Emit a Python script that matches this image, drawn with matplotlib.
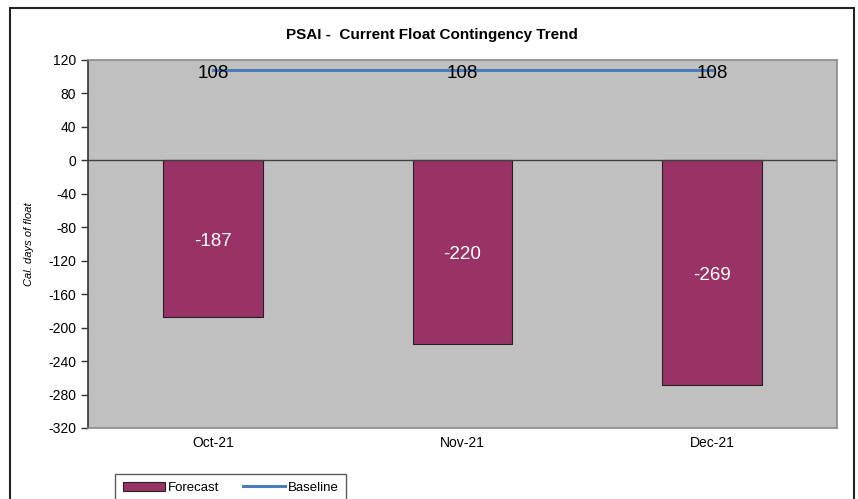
import matplotlib.pyplot as plt
from matplotlib.patches import Rectangle
import numpy as np

plt.rcParams['font.family'] = ['Liberation Sans', 'DejaVu Sans']
plt.rcParams['axes.unicode_minus'] = False

months = ['Oct-21', 'Nov-21', 'Dec-21']
forecast = [-187, -220, -269]
baseline = [108, 108, 108]
yticks = list(range(-320, 121, 40))

fig = plt.figure(figsize=(8.58, 4.99), dpi=100)
ax = fig.add_axes([0.1026, 0.1423, 0.8727, 0.7375])
ax.set_facecolor('#C0C0C0')

x = np.arange(len(months))
bars = ax.bar(x, forecast, width=0.4, color='#993366', edgecolor='#222222',
              linewidth=0.8, label='Forecast', zorder=2)
line, = ax.plot(x, baseline, color='#4A7EBB', linewidth=2.2, label='Baseline', zorder=3)

for xi, v in zip(x, forecast):
    ax.text(xi, v / 2 - 3, str(v), color='white', ha='center', va='center', fontsize=13.5, zorder=4)
for xi, v in zip(x, baseline):
    ax.text(xi, v - 4, str(v), color='black', ha='center', va='center', fontsize=13.5, zorder=4)

ax.axhline(0, color='#404040', linewidth=1, zorder=2.5)
ax.set_xlim(-0.5, 2.5)
ax.set_ylim(-320, 120)
ax.set_yticks(yticks)
ax.set_xticks(x)
ax.set_xticklabels(months, fontsize=10)
ax.tick_params(axis='y', labelsize=10, length=5, width=1, direction='out', color='#333333')
ax.tick_params(axis='x', length=0, pad=6)

for side in ['top', 'right', 'bottom']:
    ax.spines[side].set_color('#8A8A8A')
    ax.spines[side].set_linewidth(1.2)
ax.spines['left'].set_color('#333333')
ax.spines['left'].set_linewidth(1.2)

ax.set_ylabel('Cal. days of float', fontsize=8, style='italic')
ax.yaxis.set_label_coords(-0.072, 0.5)

fig.text(0.503, 0.93, 'PSAI -  Current Float Contingency Trend', ha='center', va='center',
         fontsize=11, fontweight='bold')

# outer chart frame, bottom edge runs off the canvas
fig.patches.append(Rectangle((0.012, -0.05), 0.983, 1.033, transform=fig.transFigure,
                             fill=False, edgecolor='#222222', linewidth=1.5))

leg = fig.legend([bars, line], ['Forecast', 'Baseline'], loc='upper left',
                 bbox_to_anchor=(0.126, 0.064), ncol=2, fontsize=9.5,
                 frameon=True, fancybox=False, edgecolor='#333333', handlelength=3.2,
                 handletextpad=0.2, columnspacing=1.8, borderpad=0.6)
leg.get_frame().set_linewidth(1)

fig.savefig('out.png', dpi=100)
